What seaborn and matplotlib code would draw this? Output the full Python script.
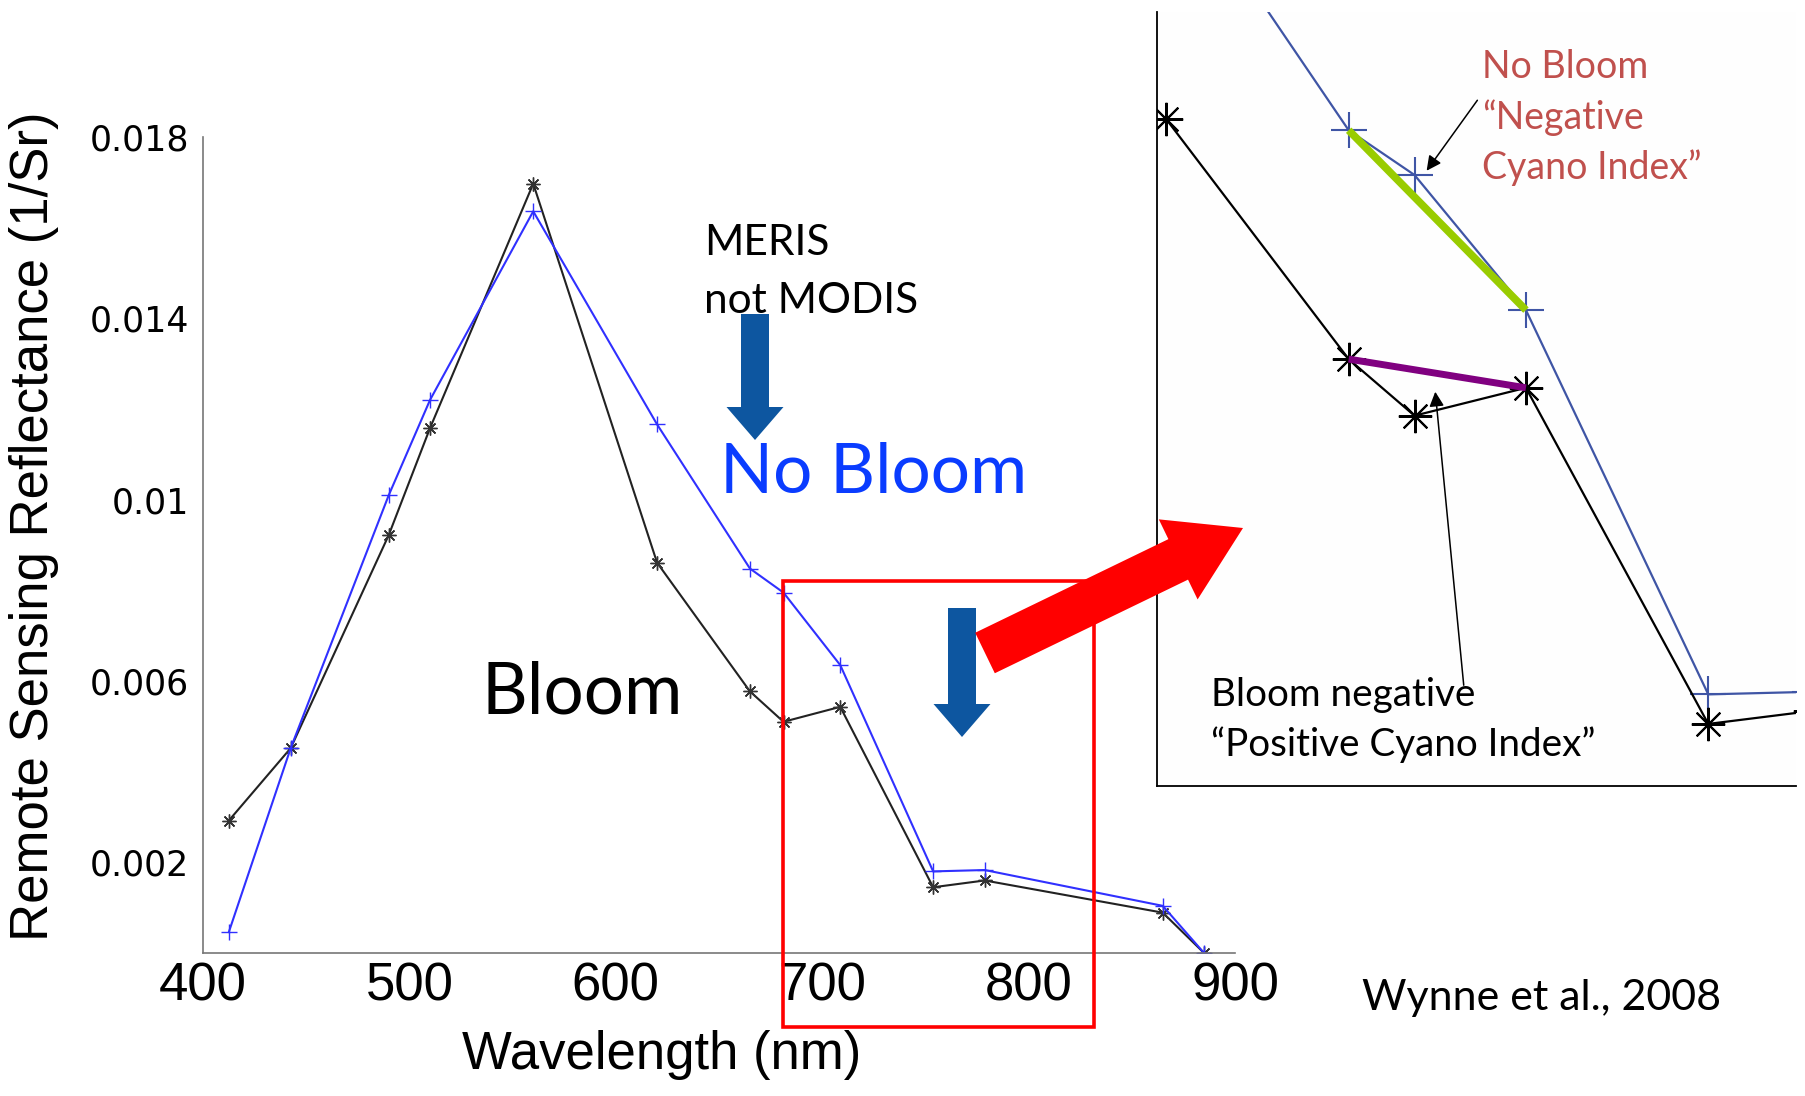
import numpy as np
import pandas as pd
import matplotlib
matplotlib.use("Agg")
import matplotlib.pyplot as plt
from matplotlib.patches import Rectangle, FancyArrow
import seaborn as sns

# -------------------------------------------------------------
# data: MERIS band centres and reflectance spectra (1/Sr)
# -------------------------------------------------------------
wavelength = [412.5, 442.5, 490, 510, 560, 620, 665, 681.25, 708.75, 753.75, 778.75, 865, 885]
rrs_bloom = [0.00292, 0.00452, 0.00922, 0.01158, 0.01697, 0.00861, 0.00577, 0.00510,
             0.00543, 0.00145, 0.00160, 0.00089, 0.00000]
rrs_nobloom = [0.00046, 0.00452, 0.01010, 0.01220, 0.01636, 0.01166, 0.00848, 0.00795,
               0.00635, 0.00180, 0.00183, 0.00104, 0.00000]
ci_bands = [665, 708.75]          # bands used for the cyano index segments
xticks = [400, 500, 600, 700, 800, 900]
ytick_labels = ["0.002", "", "0.006", "", "0.01", "", "0.014", "", "0.018"]

df = pd.DataFrame(dict(wl=wavelength, bloom=rrs_bloom, nobloom=rrs_nobloom))
ci = df[df.wl.isin(ci_bands)]
zoom = df[df.wl >= 620]

sns.set_style("white")
plt.rcParams["font.family"] = ["Liberation Sans", "DejaVu Sans"]
plt.rcParams.update({"text.color": "black", "axes.labelcolor": "black",
                     "xtick.labelcolor": "black", "ytick.labelcolor": "black"})
W, H = 1805, 1096
fig = plt.figure(figsize=(W / 100, H / 100), dpi=100)

# -------------------------------------------------------------
# main spectrum axes
# -------------------------------------------------------------
ax = fig.add_axes([203 / W, 1 - 953 / H, 1032 / W, 816 / H])
sns.lineplot(data=df, x="wl", y="bloom", ax=ax, color="#222222", lw=1.5,
             marker=(8, 2, 0), ms=10, mec="#333333", mew=1.0)
sns.lineplot(data=df, x="wl", y="nobloom", ax=ax, color="#3030ff", lw=1.5,
             marker="+", ms=12, mec="#3030ff", mew=1.0)
ax.set_xlim(400, 900)
ax.set_ylim(0, 0.018)
ax.set_xticks(xticks)
ax.set_xticklabels([str(t) for t in xticks], fontsize=38)
ax.set_yticks(np.arange(0.002, 0.0181, 0.002))
ax.set_yticklabels(ytick_labels, fontsize=25, family="DejaVu Sans")
ax.tick_params(direction="in", length=8, width=1, color="#777777", labelcolor="black")
ax.tick_params(axis="x", pad=6)
ax.tick_params(axis="y", pad=10)
for s in ["top", "right"]:
    ax.spines[s].set_visible(False)
for s in ["left", "bottom"]:
    ax.spines[s].set_color("#777777")
    ax.spines[s].set_linewidth(1.2)
ax.set_xlabel("Wavelength (nm)", fontsize=38)
ax.set_ylabel("Remote Sensing Reflectance (1/Sr)", fontsize=38)
ax.xaxis.set_label_coords(0.444, -0.094)
ax.yaxis.set_label_coords(-0.14, 0.523)
ax.xaxis.label.set_va("top")

# red box marking the zoomed region
ax.add_patch(Rectangle((681, -0.00163), 150.5, 0.00983, fill=False, ec="red",
                       lw=2.6, clip_on=False, zorder=5))

# -------------------------------------------------------------
# inset: zoom of the 620-780 nm region
# -------------------------------------------------------------
axi = fig.add_axes([1157 / W, 1 - 786 / H, 639 / W, 774 / H])
axi.set_facecolor("#fefefe")
sns.lineplot(data=df, x="wl", y="nobloom", ax=axi, color="#3f55a5", lw=1.6,
             marker="+", ms=26, mec="#3f55a5", mew=1.5)
sns.lineplot(data=zoom, x="wl", y="bloom", ax=axi, color="black", lw=1.6,
             marker=(8, 2, 0), ms=24, mec="black", mew=1.5)
axi.plot(ci.wl, ci.nobloom, color="#99cc00", lw=5.5, solid_capstyle="butt", zorder=4)
axi.plot(ci.wl, ci.bloom, color="#800080", lw=5, solid_capstyle="butt", zorder=4)
axi.set_xlim(617.7, 775.4)
axi.set_ylim(0.000715, 0.00988)
axi.set_xticks([])
axi.set_yticks([])
axi.set_xlabel("")
axi.set_ylabel("")
for s in ["top", "right"]:
    axi.spines[s].set_visible(False)
for s in ["left", "bottom"]:
    axi.spines[s].set_color("black")
    axi.spines[s].set_linewidth(1.3)

# -------------------------------------------------------------
# overlay in pixel coordinates for arrows and free text
# -------------------------------------------------------------
ov = fig.add_axes([0, 0, 1, 1], zorder=10)
ov.set_xlim(0, W)
ov.set_ylim(H, 0)
ov.axis("off")
ov.patch.set_alpha(0)

TXT = ["Lato", "DejaVu Sans"]
ov.text(704, 255, "MERIS", fontsize=30.5, family=TXT, va="baseline")
ov.text(704, 313, "not MODIS", fontsize=30.5, family=TXT, va="baseline")
ov.text(720, 493, "No Bloom", fontsize=50, family=TXT, color="#0a3cff", va="baseline")
ov.text(481, 714, "Bloom", fontsize=51, family=TXT, va="baseline")
ov.text(1362, 1010, "Wynne et al., 2008", fontsize=31, family=TXT, va="baseline")

for y0, y1, x0 in [(314, 440, 755), (608, 737, 962)]:
    ov.add_patch(FancyArrow(x0, y0, 0, y1 - y0, width=28, head_width=57, head_length=33,
                            length_includes_head=True, color="#0d56a0", lw=0))
ov.add_patch(FancyArrow(985, 653, 258, -125, width=45, head_width=89, head_length=72,
                        length_includes_head=True, color="#ff0000", lw=0, zorder=6))

red = "#c0504d"
for i, line in enumerate(["No Bloom", "\u201cNegative", "Cyano Index\u201d"]):
    ov.text(1482, 78 + i * 50.5, line, fontsize=27, family=TXT, color=red, va="baseline")
ov.text(1211, 706, "Bloom negative", fontsize=27.8, family=TXT, va="baseline")
ov.text(1211, 756, "\u201cPositive Cyano Index\u201d", fontsize=27.8, family=TXT, va="baseline")
ov.annotate("", xy=(1425, 173), xytext=(1479, 98),
            arrowprops=dict(arrowstyle="-|>", color="black", lw=1.1, mutation_scale=22))
ov.annotate("", xy=(1435, 389), xytext=(1464, 688),
            arrowprops=dict(arrowstyle="-|>", color="black", lw=1.1, mutation_scale=22))

fig.savefig("out.png", dpi=100)
